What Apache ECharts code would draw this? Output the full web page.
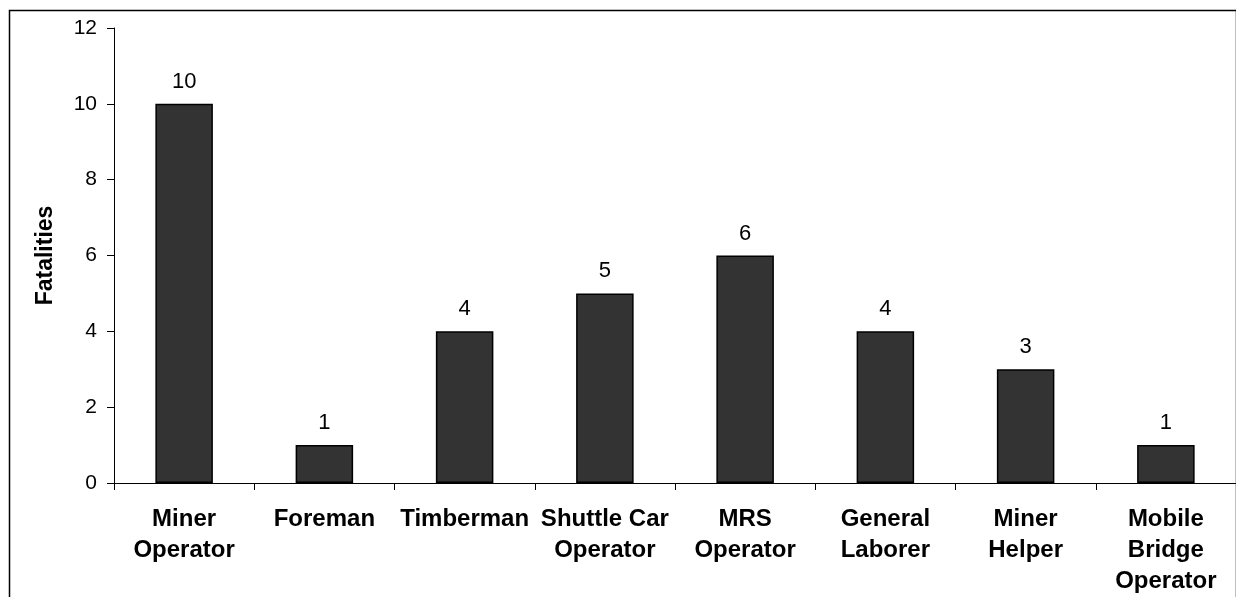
<!DOCTYPE html>
<html>
<head>
<meta charset="utf-8">
<script src="https://cdn.jsdelivr.net/npm/echarts@6/dist/echarts.min.js"></script>
<style>
  html, body { margin: 0; padding: 0; background: #fff; }
  #main { width: 1236px; height: 597px; }
</style>
</head>
<body>
<div id="main"></div>
<script>
// data
const categories = [
  'Miner\nOperator', 'Foreman', 'Timberman', 'Shuttle Car\nOperator',
  'MRS\nOperator', 'General\nLaborer', 'Miner\nHelper', 'Mobile\nBridge\nOperator'
];
const fatalities = [10, 1, 4, 5, 6, 4, 3, 1];
const yTicks = { min: 0, max: 12, interval: 2 };

const chart = echarts.init(document.getElementById('main'), null, { renderer: 'canvas' });

const font = 'Arial, "Liberation Sans", sans-serif';

const option = {
  backgroundColor: '#ffffff',
  animation: false,
  graphic: [{
    // outer frame (bottom edge runs off the picture)
    type: 'rect',
    left: 7, top: 8,
    shape: { x: 0, y: 0, width: 1227, height: 620 },
    style: { fill: 'none', stroke: '#000', lineWidth: 1.5 },
    silent: true
  }],
  grid: { left: 114, right: 0, top: 28, bottom: 114, containLabel: false },
  xAxis: {
    type: 'category',
    data: categories,
    axisLine: { lineStyle: { color: '#000', width: 1 } },
    axisTick: { show: true, length: 7, lineStyle: { color: '#000' } },
    axisLabel: {
      interval: 0, margin: 21, color: '#000',
      fontFamily: font, fontWeight: 'bold', fontSize: 24, lineHeight: 31
    }
  },
  yAxis: {
    type: 'value',
    min: yTicks.min, max: yTicks.max, interval: yTicks.interval,
    name: 'Fatalities',
    nameLocation: 'middle',
    nameGap: 57,
    nameTextStyle: { fontFamily: font, fontWeight: 'bold', fontSize: 23, color: '#000' },
    splitLine: { show: false },
    axisLine: { show: true, lineStyle: { color: '#000', width: 1 } },
    axisTick: { show: true, length: 7, lineStyle: { color: '#000' } },
    axisLabel: { margin: 17, color: '#000', fontFamily: font, fontSize: 21 }
  },
  series: [{
    type: 'bar',
    data: fatalities,
    barWidth: '41%',
    itemStyle: { color: '#333333', borderColor: '#000', borderWidth: 1.5 },
    label: {
      show: true, position: 'top', distance: 11,
      color: '#000', fontFamily: font, fontSize: 22
    }
  }]
};

chart.setOption(option);
</script>
</body>
</html>
